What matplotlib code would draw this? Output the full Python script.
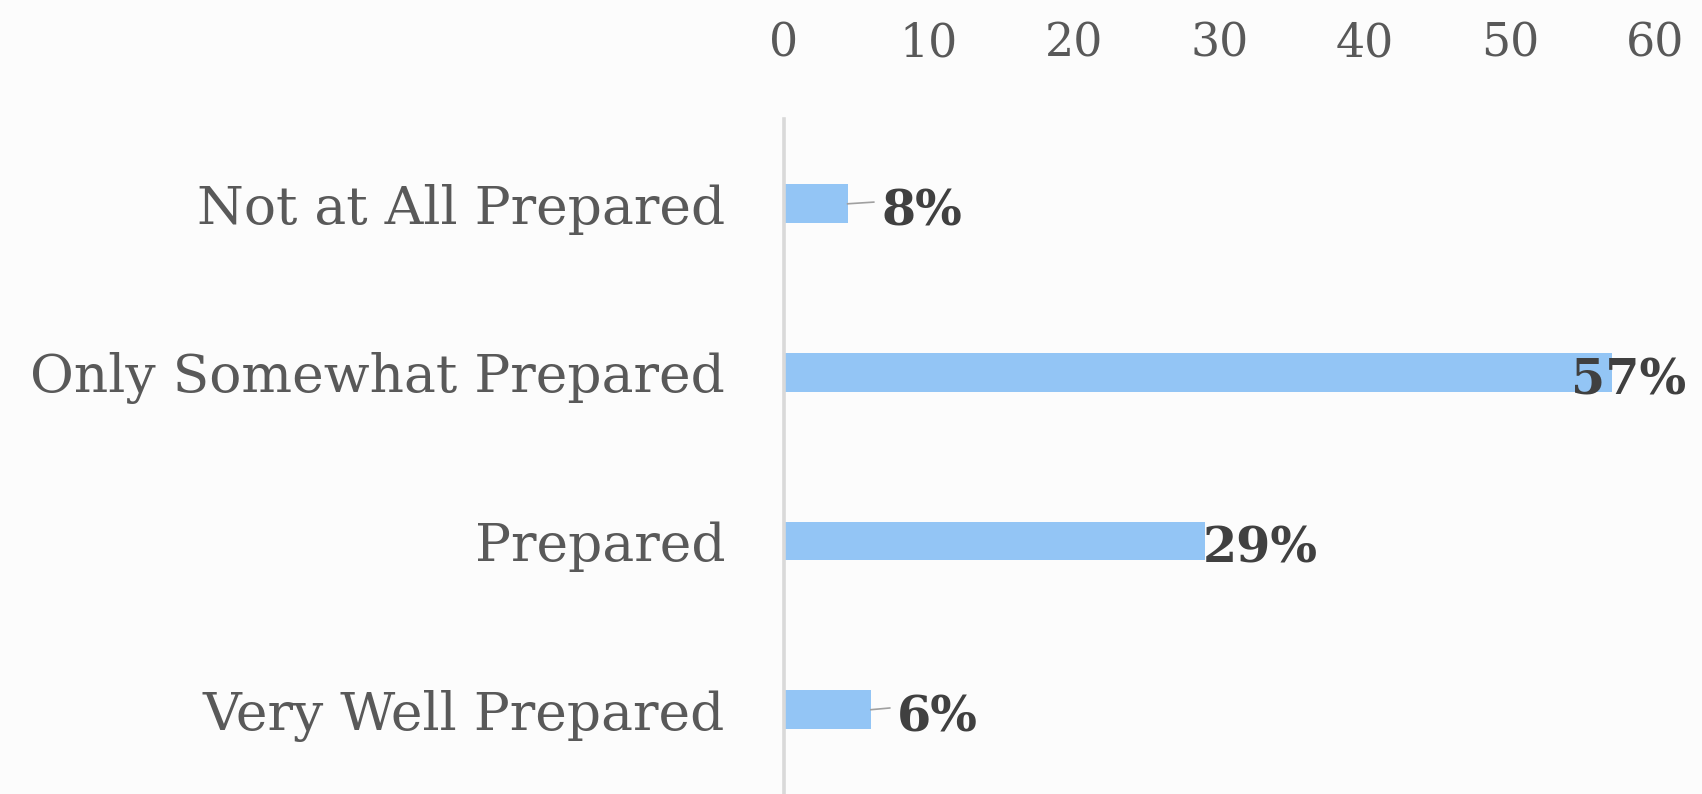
import matplotlib
matplotlib.use('Agg')
import matplotlib.pyplot as plt

# data (top to bottom)
categories = ['Not at All Prepared', 'Only Somewhat Prepared', 'Prepared', 'Very Well Prepared']
bar_values = [4.4, 57, 29, 6]
value_labels = ['8%', '57%', '29%', '6%']
x_ticks = [0, 10, 20, 30, 40, 50, 60]

# label offsets from bar end (layout only)
label_offsets = [2.3, -2.8, -0.15, 1.8]
leader = [True, False, False, True]

plt.rcParams['font.family'] = ['DejaVu Serif']

fig = plt.figure(figsize=(17.02, 7.94), dpi=100)
fig.patch.set_facecolor('#fcfcfc')
ax = fig.add_axes([722 / 1568, 0, (1525 - 722) / 1568, (731 - 110) / 731])
ax.set_facecolor('none')

ypos = list(range(len(categories)))
ax.barh(ypos, bar_values, height=0.23, color='#93c5f5', zorder=2)

ax.set_xlim(0, 60)
ax.set_ylim(3.5, -0.5)
ax.set_xticks(x_ticks)
ax.xaxis.tick_top()
ax.tick_params(axis='x', length=0, pad=38, labelsize=33, labelcolor='#595959')
ax.set_yticks(ypos)
ax.set_yticklabels(categories)
ax.tick_params(axis='y', length=0, pad=42, labelsize=38.5, labelcolor='#595959')

for s in ['top', 'right', 'bottom']:
    ax.spines[s].set_visible(False)
ax.spines['left'].set_color('#d9d9d9')
ax.spines['left'].set_linewidth(2.6)
ax.spines['left'].set_zorder(3)

# data labels with leader lines for short bars
for y, v, txt, off, ld in zip(ypos, bar_values, value_labels, label_offsets, leader):
    tx = v + off
    if ld:
        ax.plot([v, tx - 0.5], [y, y - 0.01], color='#a0a0a0', lw=1.2, zorder=2, clip_on=False)
    ax.text(tx, y + 0.05, txt, ha='left', va='center', fontsize=35.5, fontweight='bold',
            color='#404040', zorder=4, clip_on=False)

fig.savefig('out.png', dpi=100, facecolor=fig.get_facecolor())
